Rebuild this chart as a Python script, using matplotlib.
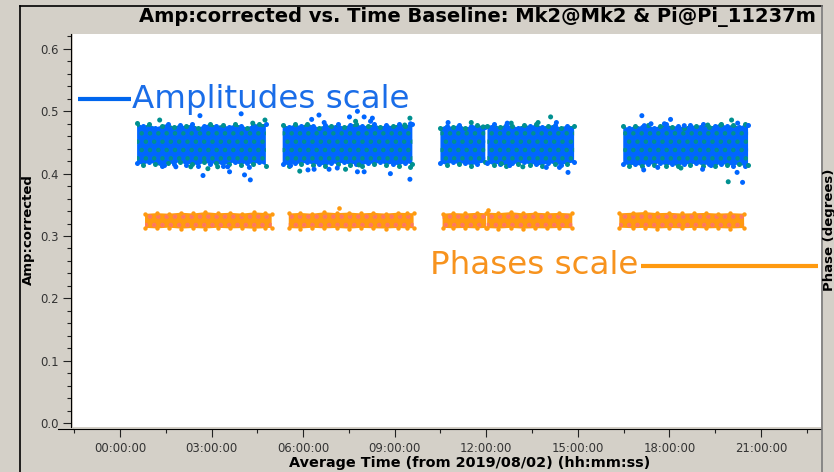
import matplotlib.pyplot as plt
from matplotlib.lines import Line2D
from matplotlib.ticker import MultipleLocator, FuncFormatter

# scan envelopes of Amp:corrected (hours since 2019/08/02 00:00 UT)
amp_t = [
    [0.56, 0.76, 0.96, 1.16, 1.36, 1.56, 1.76, 1.96, 2.16, 2.36, 2.56,
     2.76, 2.96, 3.16, 3.36, 3.56, 3.76, 3.96, 4.16, 4.36, 4.56, 4.78],
    [5.33, 5.53, 5.73, 5.93, 6.13, 6.33, 6.53, 6.73, 6.93, 7.13, 7.33,
     7.53, 7.73, 7.93, 8.13, 8.33, 8.53, 8.73, 8.93, 9.13, 9.33, 9.58],
    [10.50, 10.70, 10.90, 11.10, 11.30, 11.50, 11.70, 11.97],
    [12.04, 12.24, 12.44, 12.64, 12.84, 13.04, 13.24, 13.44, 13.64, 13.84,
     14.04, 14.24, 14.44, 14.64, 14.88],
    [16.49, 16.69, 16.89, 17.09, 17.29, 17.49, 17.69, 17.89, 18.09, 18.29, 18.49,
     18.69, 18.89, 19.09, 19.29, 19.49, 19.69, 19.89, 20.09, 20.29, 20.49, 20.58],
]
amp_hi = [
    [0.481, 0.476, 0.479, 0.474, 0.477, 0.480, 0.475, 0.478, 0.476, 0.479, 0.474,
     0.477, 0.480, 0.476, 0.478, 0.475, 0.479, 0.477, 0.474, 0.478, 0.480, 0.479],
    [0.478, 0.475, 0.479, 0.476, 0.480, 0.477, 0.474, 0.478, 0.476, 0.479, 0.475,
     0.478, 0.480, 0.476, 0.477, 0.479, 0.475, 0.478, 0.476, 0.479, 0.477, 0.480],
    [0.474, 0.477, 0.475, 0.478, 0.474, 0.476, 0.478, 0.475],
    [0.476, 0.479, 0.475, 0.478, 0.477, 0.474, 0.478, 0.476, 0.479, 0.475,
     0.477, 0.478, 0.474, 0.477, 0.476],
    [0.476, 0.473, 0.477, 0.475, 0.478, 0.474, 0.476, 0.479, 0.475, 0.477, 0.474,
     0.478, 0.476, 0.479, 0.475, 0.477, 0.480, 0.476, 0.478, 0.475, 0.479, 0.478],
]
amp_lo = [
    [0.417, 0.414, 0.418, 0.415, 0.412, 0.417, 0.415, 0.419, 0.414, 0.416, 0.413,
     0.418, 0.415, 0.417, 0.413, 0.416, 0.418, 0.414, 0.417, 0.415, 0.418, 0.413],
    [0.416, 0.413, 0.417, 0.415, 0.418, 0.414, 0.416, 0.412, 0.417, 0.415, 0.418,
     0.414, 0.416, 0.413, 0.417, 0.415, 0.418, 0.414, 0.416, 0.413, 0.417, 0.415],
    [0.417, 0.414, 0.418, 0.415, 0.417, 0.413, 0.416, 0.418],
    [0.417, 0.414, 0.416, 0.413, 0.417, 0.415, 0.418, 0.414, 0.416, 0.413,
     0.417, 0.415, 0.414, 0.416, 0.418],
    [0.416, 0.413, 0.415, 0.412, 0.416, 0.414, 0.417, 0.413, 0.415, 0.412, 0.416,
     0.414, 0.417, 0.413, 0.415, 0.412, 0.416, 0.414, 0.413, 0.415, 0.412, 0.414],
]

# amplitude points lying outside the dense band
amp_out_t = [2.62, 3.97, 1.30, 4.75, 4.35, 1.46, 1.83, 2.72, 2.88, 3.20, 3.59, 3.53,
             4.08, 4.27, 4.24, 2.32,
             6.52, 6.28, 7.78, 7.52, 8.00, 8.27, 8.21, 6.69, 9.50, 9.52, 9.33, 7.72,
             5.59, 5.89, 6.16, 6.36, 6.85, 7.12, 7.39, 7.78, 8.00, 7.83, 8.86, 9.50, 9.52,
             10.75, 11.51, 11.90, 12.82, 13.70, 14.11, 14.30, 12.69,
             12.77, 13.70, 13.97, 14.40, 14.68, 13.20, 12.50,
             17.10, 18.04, 17.18, 17.40, 17.84, 18.49, 19.26, 19.69, 20.04, 20.24,
             17.16, 17.62, 18.38, 19.09, 19.37, 19.93, 20.22, 20.40]
amp_out_v = [0.493, 0.496, 0.486, 0.486, 0.481, 0.413, 0.411, 0.397, 0.408, 0.411, 0.403, 0.411,
             0.398, 0.390, 0.410, 0.411,
             0.494, 0.487, 0.500, 0.491, 0.491, 0.489, 0.484, 0.482, 0.489, 0.480, 0.478, 0.484,
             0.413, 0.404, 0.406, 0.407, 0.407, 0.409, 0.407, 0.403, 0.403, 0.414, 0.400, 0.391, 0.410,
             0.482, 0.482, 0.475, 0.481, 0.482, 0.491, 0.482, 0.481,
             0.413, 0.417, 0.410, 0.410, 0.402, 0.411, 0.416,
             0.493, 0.487, 0.477, 0.480, 0.480, 0.477, 0.478, 0.478, 0.486, 0.481,
             0.406, 0.410, 0.409, 0.407, 0.413, 0.387, 0.402, 0.386]
amp_out_corr = ['RR', 'RR', 'LL', 'LL', 'LL', 'RR', 'RR', 'RR', 'LL', 'LL', 'RR', 'RR',
                'RR', 'RR', 'RR', 'LL',
                'RR', 'RR', 'RR', 'RR', 'RR', 'RR', 'RR', 'RR', 'LL', 'RR', 'LL', 'LL',
                'RR', 'LL', 'RR', 'RR', 'RR', 'RR', 'LL', 'RR', 'RR', 'LL', 'RR', 'RR', 'LL',
                'RR', 'LL', 'LL', 'LL', 'LL', 'LL', 'RR', 'RR',
                'RR', 'RR', 'RR', 'RR', 'RR', 'LL', 'LL',
                'RR', 'RR', 'RR', 'RR', 'RR', 'RR', 'LL', 'LL', 'LL', 'RR',
                'RR', 'RR', 'LL', 'RR', 'RR', 'LL', 'RR', 'RR']

# scan envelopes of the phase (degrees)
ph_t = [
    [0.82, 1.2, 1.6, 2.0, 2.4, 2.8, 3.2, 3.6, 4.0, 4.4, 4.75, 4.97],
    [5.53, 5.9, 6.3, 6.7, 7.1, 7.5, 7.9, 8.3, 8.7, 9.1, 9.4, 9.62],
    [10.57, 10.9, 11.3, 11.7, 12.0],
    [12.03, 12.4, 12.8, 13.2, 13.6, 14.0, 14.4, 14.82],
    [16.36, 16.8, 17.2, 17.6, 18.0, 18.4, 18.8, 19.2, 19.6, 20.0, 20.45],
]
ph_hi = [
    [15.2, 15.9, 15.4, 16.3, 15.6, 16.8, 15.8, 16.2, 15.5, 16.6, 16.0, 15.3],
    [15.6, 16.1, 15.4, 16.7, 15.9, 16.4, 15.7, 16.2, 15.5, 16.3, 16.0, 15.8],
    [15.4, 16.0, 15.6, 16.2, 15.8],
    [16.4, 15.9, 16.8, 15.7, 16.3, 15.8, 16.1, 15.6],
    [15.7, 16.3, 16.9, 15.9, 16.2, 15.6, 15.8, 16.1, 15.5, 15.9, 15.4],
]
ph_lo = [
    [2.4, 1.9, 2.6, 1.7, 2.3, 1.8, 2.5, 1.9, 2.2, 1.6, 2.1, 2.4],
    [2.2, 1.8, 2.5, 1.9, 2.3, 1.7, 2.4, 2.0, 1.8, 2.3, 1.9, 2.2],
    [2.5, 2.0, 2.3, 1.9, 2.4],
    [2.2, 1.8, 2.4, 1.7, 2.1, 1.9, 2.3, 2.0],
    [2.6, 2.1, 2.4, 1.8, 2.3, 2.0, 2.4, 1.9, 2.2, 1.8, 2.3],
]
ph_out_t = [7.16, 12.05]
ph_out_v = [20.6, 18.5]

corr_colors = {'RR': '#0066ff', 'LL': '#009090'}
ph_colors = {'RR': '#ff9a10', 'LL': '#ff7862'}

W, H = 834, 472
plt.rcParams['hatch.linewidth'] = 2.0
fig = plt.figure(figsize=(W / 100, H / 100), dpi=100, facecolor='#d4d0c8')
ax = fig.add_axes([73 / W, 1 - 427 / H, 748 / W, 393 / H])
ax.set_facecolor('white')
ax2 = ax.twinx()

# dense sample clouds: one correlation as fill, the other as speckle
for t, hi, lo in zip(amp_t, amp_hi, amp_lo):
    ax.fill_between(t, lo, hi, facecolor=corr_colors['RR'],
                    edgecolor=corr_colors['LL'], hatch='..', linewidth=0, zorder=2)
    ax.scatter(t[::2], hi[::2], s=13, color=corr_colors['LL'], lw=0, zorder=3)
    ax.scatter(t[1::2], hi[1::2], s=13, color=corr_colors['RR'], lw=0, zorder=3)
    ax.scatter(t[::2], lo[::2], s=13, color=corr_colors['RR'], lw=0, zorder=3)
    ax.scatter(t[1::2], lo[1::2], s=13, color=corr_colors['LL'], lw=0, zorder=3)

ax.scatter(amp_out_t, amp_out_v, s=13, lw=0, zorder=3,
           c=[corr_colors[c] for c in amp_out_corr])

for t, hi, lo in zip(ph_t, ph_hi, ph_lo):
    ax2.fill_between(t, lo, hi, facecolor=ph_colors['RR'],
                     edgecolor=ph_colors['LL'], hatch='..', linewidth=0, zorder=2)
    ax2.scatter(t, hi, s=10, color=ph_colors['RR'], lw=0, zorder=3)
    ax2.scatter(t, lo, s=10, color=ph_colors['RR'], lw=0, zorder=3)
ax2.scatter(ph_out_t, ph_out_v, s=11, color=ph_colors['RR'], lw=0, zorder=3)

ax.set_xlim(-1.54, 22.97)
ax.set_ylim(-0.0064, 0.624)
ax2.set_ylim(-180, 180)
ax2.set_yticks([])

def hms(h, pos):
    return '%02d:%02d:00' % (int(h) % 24, int(round((h % 1) * 60)))

ax.xaxis.set_major_locator(MultipleLocator(3))
ax.xaxis.set_minor_locator(MultipleLocator(1.5))
ax.xaxis.set_major_formatter(FuncFormatter(hms))
ax.yaxis.set_major_locator(MultipleLocator(0.1))
ax.yaxis.set_minor_locator(MultipleLocator(0.02))
ax.yaxis.set_major_formatter(FuncFormatter(lambda v, p: '%.1f' % v))

for a in (ax, ax2):
    for s in ('top', 'right'):
        a.spines[s].set_visible(False)
ax2.spines['left'].set_visible(False)
ax2.spines['bottom'].set_visible(False)
ax.spines['left'].set_position(('outward', 1.5))
ax.spines['bottom'].set_position(('outward', 1.5))
ax.tick_params(which='major', length=6, width=0.8, labelsize=8.4,
               labelcolor='#333333', color='#222222', pad=3)
ax.tick_params(which='minor', length=3, width=0.8, color='#222222')

fig.text(469.5 / W, 1 - 463 / H, 'Average Time (from 2019/08/02) (hh:mm:ss)',
         ha='center', va='center', fontsize=10.4, fontweight='bold')
fig.text(28 / W, 1 - 230 / H, 'Amp:corrected', rotation=90, ha='center',
         va='center', fontsize=9.5, fontweight='bold')
fig.text(829 / W, 1 - 230 / H, 'Phase (degrees)', rotation=90, ha='center',
         va='center', fontsize=9.5, fontweight='bold')
fig.text(477 / W, 1 - 17 / H, 'Amp:corrected vs. Time Baseline: Mk2@Mk2 & Pi@Pi_11237m',
         ha='center', va='center', fontsize=14, fontweight='bold')

# scale markers for the two y axes
ax.plot([0.007, 0.0775], [0.834, 0.834], transform=ax.transAxes,
        color='#0066ee', lw=3, solid_capstyle='butt', clip_on=False, zorder=4)
ax.text(0.079, 0.834, 'Amplitudes scale', transform=ax.transAxes, color='#1a6de8',
        fontsize=23.4, va='center', ha='left', zorder=4)
ax.plot([0.759, 0.996], [0.41, 0.41], transform=ax.transAxes,
        color='#ff9a10', lw=3, solid_capstyle='butt', clip_on=False, zorder=4)
ax.text(0.477, 0.41, 'Phases scale', transform=ax.transAxes, color='#f7931e',
        fontsize=23.4, va='center', ha='left', zorder=4)

# window frame and axis stub
fig.add_artist(Line2D([58 / W, 73 / W], [1 - 429 / H] * 2, color='black', lw=0.8))
fig.add_artist(Line2D([20 / W, 20 / W], [0, 1 - 6 / H], color='black', lw=1.2))
fig.add_artist(Line2D([20 / W, 822 / W], [1 - 6 / H] * 2, color='black', lw=1.2))
fig.add_artist(Line2D([822 / W, 822 / W], [0, 1 - 6 / H], color='#7a7a7a', lw=1.2))

fig.savefig('out.png', dpi=100, facecolor=fig.get_facecolor())
